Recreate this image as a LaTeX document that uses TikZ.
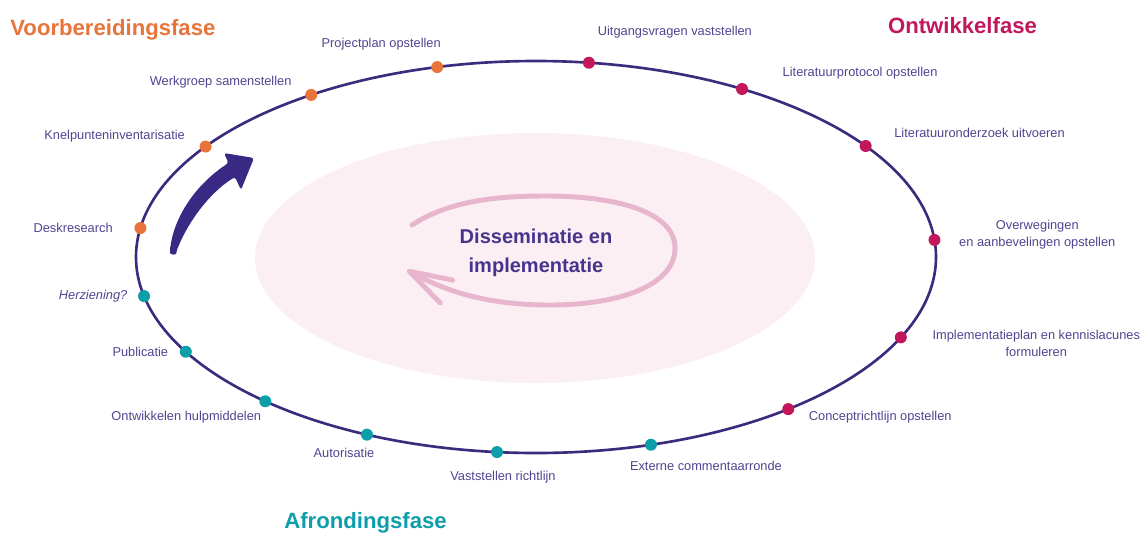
\documentclass[tikz,border=0pt]{standalone}
\usepackage{fontspec}
\setmainfont{Liberation Sans}
\usepackage{xcolor}
\usepackage{tikz}
\usetikzlibrary{arrows.meta,positioning}
\definecolor{ring}{HTML}{3C2A7D}
\definecolor{prep}{HTML}{E8743B}
\definecolor{devel}{HTML}{C2185B}
\definecolor{final}{HTML}{0E9EAA}
\definecolor{txt}{HTML}{4E4590}
\definecolor{core}{HTML}{46348C}
\definecolor{blush}{HTML}{FBEFF4}
\definecolor{loopc}{HTML}{E7B6CD}

\begin{document}
\begin{tikzpicture}[
  dot/.style  ={circle, inner sep=0pt, minimum size=2.4mm},
  lbl/.style  ={inner sep=0pt, align=center, text=txt,
                font=\fontsize{7.3}{9.6}\selectfont},
  phase/.style={inner sep=0pt, anchor=base west,
                font=\fontsize{12.6}{15}\selectfont\bfseries}
]
\useasboundingbox (0,0) rectangle (22.8,-10.64);
\coordinate (c) at (10.72,-5.14);

% inner area and the cycle
\fill[blush] (10.7,-5.16) ellipse (5.6 and 2.5);
\draw[ring, line width=1.5pt] (c) ellipse (8 and 3.92);

\begin{scope}[shift={(c)}]
\foreach \a/\n/\col in {171.5/1/prep, 145.7/2/prep, 124.2/3/prep, 104.3/4/prep,
    82.4/5/devel, 59/6/devel, 34.5/7/devel, 5/8/devel, -24.2/9/devel, -50.9/10/devel,
    -73.3/11/final, -95.6/12/final, -115/13/final, -132.6/14/final,
    -151.1/15/final, -168.5/16/final}
  \node[dot, fill=\col] (d\n) at (\a:8 and 3.92) {};
\end{scope}

\node[lbl, left=4.2mm of d1]                 (t1)  {Deskresearch};
\node[lbl, left=2.8mm of d2, yshift=2mm]     (t2)  {Knelpunteninventarisatie};
\node[lbl, left=2.6mm of d3, yshift=2.6mm]   (t3)  {Werkgroep samenstellen};
\node[lbl, above=2mm of d4, xshift=-11.2mm]  (t4)  {Projectplan opstellen};
\node[lbl, above=3.6mm of d5, xshift=17.2mm] (t5)  {Uitgangsvragen vaststellen};
\node[lbl, right=6.8mm of d6, yshift=3.2mm]  (t6)  {Literatuurprotocol opstellen};
\node[lbl, right=4.4mm of d7, yshift=2.6mm]  (t7)  {Literatuuronderzoek uitvoeren};
\node[lbl, right=3.6mm of d8, yshift=1mm]    (t8)  {Overwegingen\\en aanbevelingen opstellen};
\node[lbl, right=5mm of d9, yshift=-1.3mm]   (t9)  {Implementatieplan en kennislacunes\\formuleren};
\node[lbl, right=2.8mm of d10, yshift=-1.6mm](t10) {Conceptrichtlijn opstellen};
\node[lbl, below=1.9mm of d11, xshift=11mm]  (t11) {Externe commentaarronde};
\node[lbl, below=2.5mm of d12, xshift=1.2mm] (t12) {Vaststellen richtlijn};
\node[lbl, below=1.3mm of d13, xshift=-4.6mm](t13) {Autorisatie};
\node[lbl, below=0.6mm of d14, xshift=-15.8mm](t14) {Ontwikkelen hulpmiddelen};
\node[lbl, left=2.2mm of d15]                (t15) {Publicatie};
\node[lbl, left=2mm of d16]                  (t16) {\itshape Herziening?};

\node[phase, text=prep]                (p1) at (0.2,-0.7)    {Voorbereidingsfase};
\node[phase, text=devel, anchor=base]  (p2) at (19.25,-0.66) {Ontwikkelfase};
\node[phase, text=final]               (p3) at (5.68,-10.56) {Afrondingsfase};

\node[text=core, align=center, font=\fontsize{11.4}{16.4}\selectfont\bfseries]
  (mid) at (10.72,-5.05) {Disseminatie en\\implementatie};

% loop round the middle text
\draw[loopc, line width=2.8pt, line cap=round,
      -{Straight Barb[length=8.5mm, width=5.2mm, round]}]
  (8.24,-4.5) .. controls (9.0,-4.0) and (10.0,-3.92) .. (10.9,-3.92)
  .. controls (12.5,-3.92) and (13.5,-4.3) .. (13.5,-4.96)
  .. controls (13.5,-5.7) and (12.4,-6.1) .. (11.0,-6.1)
  .. controls (9.6,-6.1) and (8.8,-5.76) .. (8.14,-5.4);

% start arrow
\fill[ring!95!blue, rounded corners=1.5pt]
  (3.40,-5.00) .. controls (3.48,-4.35) and (3.90,-3.70) .. (4.57,-3.26)
  -- (4.48,-3.06) -- (5.08,-3.16) -- (4.82,-3.80) -- (4.70,-3.54)
  .. controls (4.30,-3.78) and (3.82,-4.30) .. (3.53,-5.02)
  .. controls (3.52,-5.10) and (3.40,-5.10) .. cycle;
\end{tikzpicture}
\end{document}
